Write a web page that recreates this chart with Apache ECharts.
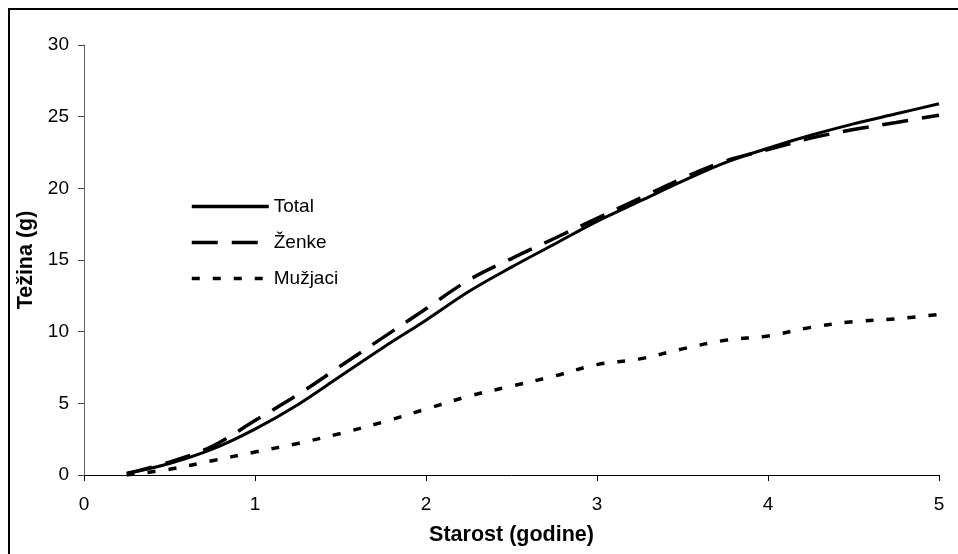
<!DOCTYPE html>
<html>
<head>
<meta charset="utf-8">
<script src="https://cdn.jsdelivr.net/npm/echarts@6/dist/echarts.min.js"></script>
<style>
html,body{margin:0;padding:0;background:#fff;}
#chart{width:958px;height:554px;}
</style>
</head>
<body>
<div id="chart"></div>
<script>
var ages = [0.25, 0.5, 0.75, 1.0, 1.25, 1.5, 1.75, 2.0, 2.25, 2.5, 2.75, 3.0, 3.25, 3.5, 3.75, 4.0, 4.25, 4.5, 4.75, 5.0];
var total = [0.1, 0.8, 1.8, 3.2, 4.9, 6.9, 8.9, 10.8, 12.8, 14.5, 16.1, 17.7, 19.1, 20.5, 21.8, 22.8, 23.7, 24.5, 25.2, 25.9];
var zenke = [0.1, 0.9, 2.0, 3.8, 5.6, 7.6, 9.6, 11.6, 13.6, 15.1, 16.5, 17.9, 19.3, 20.7, 21.9, 22.7, 23.5, 24.1, 24.6, 25.1];
var muzjaci = [0.0, 0.4, 1.0, 1.6, 2.2, 2.9, 3.7, 4.6, 5.5, 6.2, 6.9, 7.7, 8.1, 8.8, 9.4, 9.7, 10.3, 10.7, 10.9, 11.2];
var seriesNames = ['Total', 'Ženke', 'Mužjaci'];
var xTitle = 'Starost (godine)';
var yTitle = 'Težina (g)';

function pairs(vals) { return ages.map(function (a, i) { return [a, vals[i]]; }); }

var FONT = 'Liberation Sans, Arial, sans-serif';
var chart = echarts.init(document.getElementById('chart'), null, { renderer: 'canvas' });
chart.setOption({
  animation: false,
  backgroundColor: '#ffffff',
  textStyle: { fontFamily: FONT, color: '#000' },
  grid: { left: 84, right: 19, top: 45, bottom: 79, containLabel: false },
  legend: {
    orient: 'vertical',
    left: 190,
    top: 197,
    padding: 0,
    itemGap: 17,
    itemWidth: 77,
    itemHeight: 19,
    itemStyle: { opacity: 0 },
    lineStyle: { width: 3.5 },
    textStyle: { fontFamily: FONT, fontSize: 19, color: '#000' },
    data: seriesNames
  },
  xAxis: {
    type: 'value', min: 0, max: 5, interval: 1,
    name: xTitle, nameLocation: 'middle', nameGap: 49,
    nameTextStyle: { fontFamily: FONT, fontSize: 21.5, fontWeight: 'bold', color: '#000' },
    axisLine: { lineStyle: { color: '#000', width: 1 } },
    axisTick: { show: true, length: 6, inside: false, lineStyle: { color: '#000' } },
    axisLabel: { fontFamily: FONT, fontSize: 19, color: '#000', margin: 20 },
    splitLine: { show: false }
  },
  yAxis: {
    type: 'value', min: 0, max: 30, interval: 5,
    name: yTitle, nameLocation: 'middle', nameGap: 45, nameRotate: 90,
    nameTextStyle: { fontFamily: FONT, fontSize: 21.5, fontWeight: 'bold', color: '#000' },
    axisLine: { show: true, lineStyle: { color: '#666', width: 1 } },
    axisTick: { show: true, length: 6, lineStyle: { color: '#444' } },
    axisLabel: { fontFamily: FONT, fontSize: 19, color: '#000', margin: 15 },
    splitLine: { show: false }
  },
  graphic: [{
    type: 'rect',
    shape: { x: 9, y: 9, width: 1200, height: 1200 },
    style: { fill: 'none', stroke: '#000', lineWidth: 2 },
    silent: true
  }],
  series: [
    {
      name: seriesNames[0], type: 'line', data: pairs(total), smooth: 0.35,
      symbol: 'none', showSymbol: false,
      lineStyle: { color: '#000', width: 3, type: 'solid' },
      itemStyle: { color: '#000' }
    },
    {
      name: seriesNames[1], type: 'line', data: pairs(zenke), smooth: 0.35,
      symbol: 'none', showSymbol: false,
      lineStyle: { color: '#000', width: 3.5, type: [26, 14] },
      itemStyle: { color: '#000' }
    },
    {
      name: seriesNames[2], type: 'line', data: pairs(muzjaci), smooth: 0.35,
      symbol: 'none', showSymbol: false,
      lineStyle: { color: '#000', width: 3.5, type: [8, 13] },
      itemStyle: { color: '#000' }
    }
  ]
});
</script>
</body>
</html>
